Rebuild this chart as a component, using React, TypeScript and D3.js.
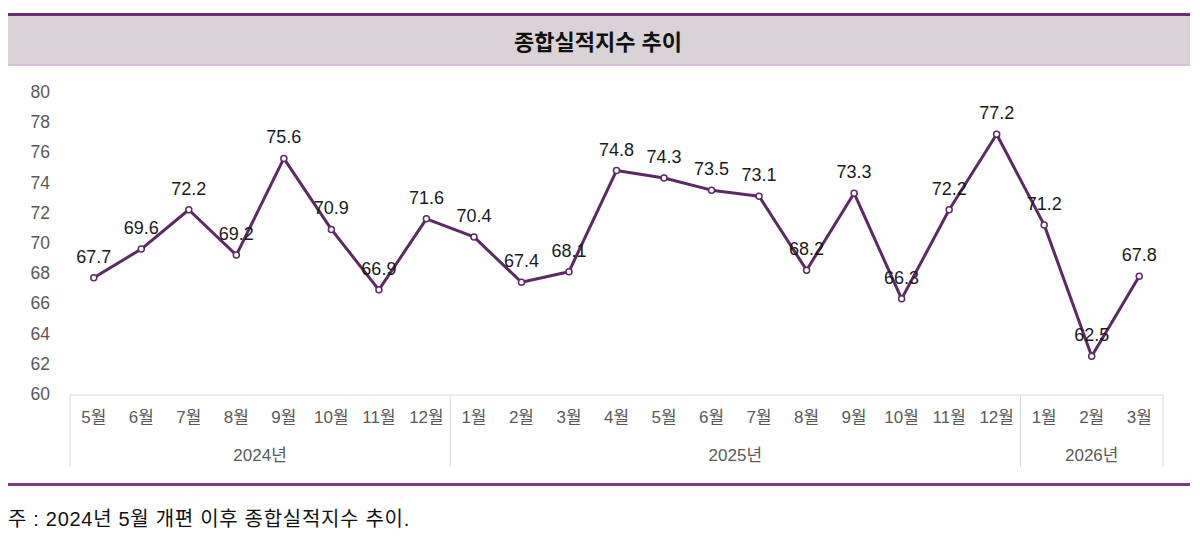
import React from "react";
import { scaleBand, scaleLinear, line, range } from "d3";

const months = ["5월", "6월", "7월", "8월", "9월", "10월", "11월", "12월", "1월", "2월", "3월", "4월", "5월", "6월", "7월", "8월", "9월", "10월", "11월", "12월", "1월", "2월", "3월"];
const values = [67.7, 69.6, 72.2, 69.2, 75.6, 70.9, 66.9, 71.6, 70.4, 67.4, 68.1, 74.8, 74.3, 73.5, 73.1, 68.2, 73.3, 66.3, 72.2, 77.2, 71.2, 62.5, 67.8];
const years = [
  { label: "2024년", count: 8 },
  { label: "2025년", count: 12 },
  { label: "2026년", count: 3 },
];
const yTicks = [60, 62, 64, 66, 68, 70, 72, 74, 76, 78, 80];

const W = 1200;
const H = 537;
const font = "'Liberation Sans', 'Noto Sans CJK KR', sans-serif";

export default function App() {
  const left = 70;
  const right = 1163;
  const top = 92;
  const bottom = 394;

  const x = scaleBand<number>()
    .domain(range(months.length))
    .range([left, right]);
  const y = scaleLinear().domain([60, 80]).range([bottom, top]);
  const cx = (i: number) => (x(i) as number) + x.bandwidth() / 2;

  const path = line<number>()
    .x((d, i) => cx(i))
    .y((d) => y(d))(values);

  // year group boundaries
  let acc = 0;
  const groups = years.map((g) => {
    const start = acc;
    acc += g.count;
    return { ...g, start, end: acc };
  });

  const axisTop = 395;
  const axisBottom = 467;

  return (
    <svg width={W} height={H} style={{ position: "absolute", left: 0, top: 0 }}>
      {/* title band */}
      <rect x={8} y={15} width={1182} height={50} fill="#d9d3d8" />
      <rect x={8} y={13} width={1182} height={3} fill="#6b2f6e" />
      <rect x={8} y={64} width={1182} height={2} fill="#d8c2d8" />
      <text x={598} y={50} textAnchor="middle" fontFamily={font} fontWeight={700} fontSize={22} fill="#111">
        종합실적지수 추이
      </text>

      {/* y axis labels */}
      {yTicks.map((t) => (
        <text key={t} x={50} y={y(t) + 6} textAnchor="end" fontFamily={font} fontSize={17.5} fill="#595959">
          {t}
        </text>
      ))}

      {/* category axis box */}
      <line x1={left} x2={right} y1={axisTop} y2={axisTop} stroke="#d9d9d9" />
      <line x1={left} x2={left} y1={axisTop} y2={axisBottom} stroke="#d9d9d9" />
      {groups.map((g) => (
        <line
          key={g.label}
          x1={left + g.end * x.step()}
          x2={left + g.end * x.step()}
          y1={axisTop}
          y2={axisBottom}
          stroke="#d9d9d9"
        />
      ))}
      {months.map((m, i) => (
        <text key={i} x={cx(i)} y={423} textAnchor="middle" fontFamily={font} fontSize={17} fill="#595959">
          {m}
        </text>
      ))}
      {groups.map((g) => (
        <text
          key={g.label}
          x={left + ((g.start + g.end) / 2) * x.step()}
          y={461}
          textAnchor="middle"
          fontFamily={font}
          fontSize={17}
          fill="#595959"
        >
          {g.label}
        </text>
      ))}

      {/* line */}
      <path d={path ?? ""} fill="none" stroke="#5b2a63" strokeWidth={3} strokeLinejoin="round" />
      {values.map((v, i) => (
        <circle key={i} cx={cx(i)} cy={y(v)} r={3} fill="#fff" stroke="#5b2a63" strokeWidth={1.5} />
      ))}
      {values.map((v, i) => (
        <text key={i} x={cx(i)} y={y(v) - 15} textAnchor="middle" fontFamily={font} fontSize={18} fill="#1a1a1a">
          {v.toFixed(1)}
        </text>
      ))}

      {/* footer */}
      <rect x={8} y={483} width={1182} height={3} fill="#7a3a7e" />
      <text x={8} y={526} fontFamily={font} fontSize={20} letterSpacing={0.7} fill="#111">
        주 : 2024년 5월 개편 이후 종합실적지수 추이.
      </text>
    </svg>
  );
}
